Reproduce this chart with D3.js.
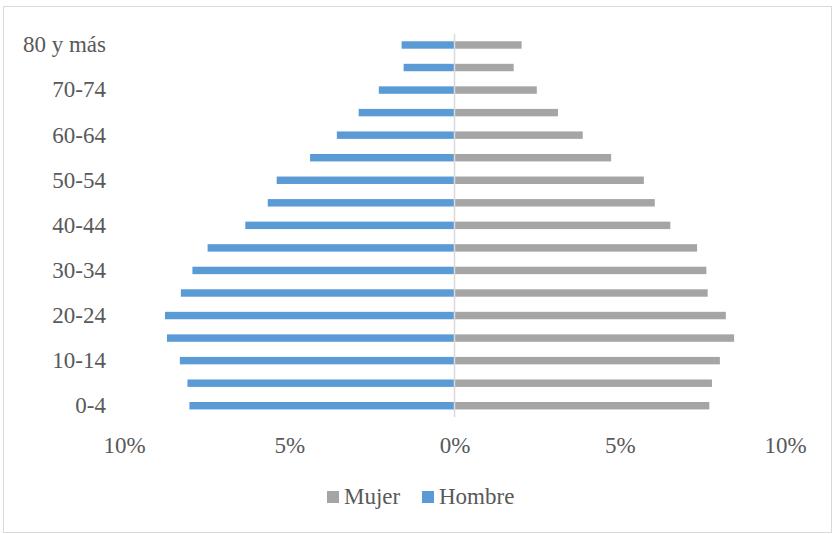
<!DOCTYPE html>
<html>
<head>
<meta charset="utf-8">
<script src="https://cdn.jsdelivr.net/npm/d3@7"></script>
<style>
  body { margin: 0; background: #fff; }
  text { font-family: "Liberation Serif", "Times New Roman", serif; fill: #595959; }
</style>
</head>
<body>
<svg id="mySVG" width="833" height="534"></svg>
<script>
//---data---
var ages = ["0-4", "5-9", "10-14", "15-19", "20-24", "25-29", "30-34", "35-39", "40-44",
  "45-49", "50-54", "55-59", "60-64", "65-69", "70-74", "75-79", "80 y más"]
var hombre = [8.02, 8.08, 8.31, 8.70, 8.76, 8.28, 7.93, 7.47, 6.33,
  5.65, 5.38, 4.37, 3.56, 2.90, 2.29, 1.54, 1.60]
var mujer = [7.71, 7.79, 8.03, 8.46, 8.21, 7.66, 7.62, 7.34, 6.53,
  6.06, 5.73, 4.74, 3.88, 3.13, 2.49, 1.79, 2.03]
var xTicks = [-10, -5, 0, 5, 10]
var series = ["Mujer", "Hombre"]

var HombreColor = "#5B9BD5"
var MujerColor = "#A5A5A5"
var FontSize = "23px"

var MySVG = d3.select("#mySVG")

//---chart frame---
MySVG.append("rect")
  .attr("x", 3.5).attr("y", 6.5)
  .attr("width", 828).attr("height", 526)
  .attr("fill", "white")
  .attr("stroke", "#d9d9d9")
  .attr("stroke-width", 1)

var x = d3.scaleLinear().domain([-10, 10]).range([124, 785])
var y = d3.scaleBand().domain(ages).range([417, 33.7]).paddingInner(0.67).paddingOuter(0.335)

var barsG = MySVG.append("g").attr("id", "barsG")

//---hombre (left)---
barsG.selectAll(".hombre")
  .data(ages)
  .enter().append("rect")
  .attr("class", "hombre")
  .attr("x", function (d, i) { return x(-hombre[i]) })
  .attr("y", function (d) { return y(d) })
  .attr("width", function (d, i) { return x(0) - x(-hombre[i]) })
  .attr("height", y.bandwidth())
  .attr("fill", HombreColor)

//---mujer (right)---
barsG.selectAll(".mujer")
  .data(ages)
  .enter().append("rect")
  .attr("class", "mujer")
  .attr("x", x(0))
  .attr("y", function (d) { return y(d) })
  .attr("width", function (d, i) { return x(mujer[i]) - x(0) })
  .attr("height", y.bandwidth())
  .attr("fill", MujerColor)

//---zero line---
MySVG.append("line")
  .attr("x1", x(0)).attr("x2", x(0))
  .attr("y1", 33.7).attr("y2", 417)
  .attr("stroke", "#d9d9d9")
  .attr("stroke-width", 1.5)

//---x axis---
var xAxis = d3.axisBottom(x)
  .tickValues(xTicks)
  .tickSize(0)
  .tickPadding(0)
  .tickFormat(function (d) { return Math.abs(d) + "%" })
var xG = MySVG.append("g")
  .attr("transform", "translate(0,437)")
  .call(xAxis)
xG.select(".domain").remove()
xG.selectAll("text")
  .attr("font-size", FontSize)
  .attr("font-family", "Liberation Serif")
  .attr("fill", "#595959")

//---y axis (every other label)---
var yAxis = d3.axisLeft(y)
  .tickValues(ages.filter(function (d, i) { return i % 2 == 0 }))
  .tickSize(0)
  .tickPadding(0)
var yG = MySVG.append("g")
  .attr("transform", "translate(106,0)")
  .call(yAxis)
yG.select(".domain").remove()
yG.selectAll("text")
  .attr("font-size", FontSize)
  .attr("font-family", "Liberation Serif")
  .attr("fill", "#595959")

//---legend---
var legendX = [327, 422]
var legend = MySVG.append("g").attr("id", "legendG")
series.forEach(function (s, i) {
  legend.append("rect")
    .attr("x", legendX[i]).attr("y", 491)
    .attr("width", 12).attr("height", 12)
    .attr("fill", s == "Mujer" ? MujerColor : HombreColor)
  legend.append("text")
    .attr("x", legendX[i] + 17).attr("y", 503.5)
    .attr("font-size", FontSize)
    .text(s)
})
</script>
</body>
</html>
